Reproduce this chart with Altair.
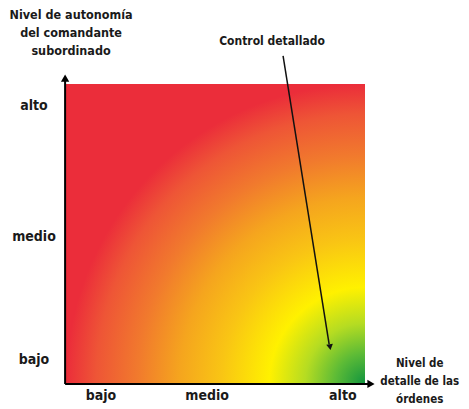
import altair as alt
import pandas as pd

# ---- data ----
level_labels = ["bajo", "medio", "alto"]
x_label_pos = [0.117, 0.472, 0.926]
y_label_pos = [0.077, 0.488, 0.926]

y_title_lines = ["Nivel de autonomía", "del comandante", "subordinado"]
y_title_ypos = [1.232, 1.172, 1.111]
x_title_lines = ["Nivel de", "detalle de las", "órdenes"]
x_title_ypos = [0.064, 0.003, -0.057]

annotation_text = ["Control detallado"]
annotation_pos = [(0.689, 1.144)]
arrow_from = [(0.726, 1.094)]
arrow_to = [(0.880, 0.130)]

FONT = "Liberation Sans Narrow, DejaVu Sans Condensed, Arial Narrow, sans-serif"
INK = "#1a1a1a"

xs = alt.Scale(domain=[0, 1], nice=False, zero=False)
ys = alt.Scale(domain=[0, 1], nice=False, zero=False)

# gradient square
square = alt.Chart(pd.DataFrame({"x": [0], "x2": [1], "y": [0], "y2": [1]})).mark_rect(
    fill={
        "gradient": "radial",
        "x1": 1, "y1": 1, "r1": 0,
        "x2": 1, "y2": 1, "r2": 1,
        "stops": [
            {"offset": 0.0, "color": "#12953F"},
            {"offset": 0.1, "color": "#5DBB36"},
            {"offset": 0.2, "color": "#B5DC22"},
            {"offset": 0.32, "color": "#FFF100"},
            {"offset": 0.48, "color": "#F9C514"},
            {"offset": 0.62, "color": "#F5A51E"},
            {"offset": 0.76, "color": "#F17A2D"},
            {"offset": 0.9, "color": "#EE5536"},
            {"offset": 1.0, "color": "#EB2D3A"},
        ],
    },
    stroke=None,
).encode(
    x=alt.X("x:Q", scale=xs, axis=None),
    x2="x2:Q",
    y=alt.Y("y:Q", scale=ys, axis=None),
    y2="y2:Q",
)

# axes lines
axes_df = pd.DataFrame({
    "x": [-0.003, -0.003],
    "y": [-0.003, -0.003],
    "x2": [-0.003, 1.012],
    "y2": [1.012, -0.003],
})
axes = alt.Chart(axes_df).mark_rule(color="black", strokeWidth=2).encode(
    x=alt.X("x:Q", scale=xs), y=alt.Y("y:Q", scale=ys), x2="x2:Q", y2="y2:Q"
)
heads_df = pd.DataFrame({"x": [-0.003, 1.02], "y": [1.02, -0.003], "angle": [0, 90]})
heads = alt.Chart(heads_df).mark_point(
    shape="triangle-up", filled=True, color="black", size=70, opacity=1
).encode(
    x=alt.X("x:Q", scale=xs), y=alt.Y("y:Q", scale=ys),
    angle=alt.Angle("angle:Q", scale=None),
)

# tick labels
xl = alt.Chart(pd.DataFrame({"t": level_labels, "x": x_label_pos, "y": [-0.043] * 3})).mark_text(
    font=FONT, fontSize=14, fontWeight="bold", color=INK, baseline="middle"
).encode(x=alt.X("x:Q", scale=xs), y=alt.Y("y:Q", scale=ys), text="t:N")
yl = alt.Chart(pd.DataFrame({"t": level_labels, "x": [-0.107] * 3, "y": y_label_pos})).mark_text(
    font=FONT, fontSize=14, fontWeight="bold", color=INK, baseline="middle"
).encode(x=alt.X("x:Q", scale=xs), y=alt.Y("y:Q", scale=ys), text="t:N")

# titles
yt = alt.Chart(pd.DataFrame({"t": y_title_lines, "x": [0.017] * 3, "y": y_title_ypos})).mark_text(
    font=FONT, fontSize=12.5, fontWeight="bold", color=INK, baseline="middle"
).encode(x=alt.X("x:Q", scale=xs), y=alt.Y("y:Q", scale=ys), text="t:N")
xt = alt.Chart(pd.DataFrame({"t": x_title_lines, "x": [1.183] * 3, "y": x_title_ypos})).mark_text(
    font=FONT, fontSize=11.5, fontWeight="bold", color=INK, baseline="middle"
).encode(x=alt.X("x:Q", scale=xs), y=alt.Y("y:Q", scale=ys), text="t:N")

# annotation
ann = alt.Chart(pd.DataFrame({"t": annotation_text,
                              "x": [p[0] for p in annotation_pos],
                              "y": [p[1] for p in annotation_pos]})).mark_text(
    font=FONT, fontSize=12, fontWeight="bold", color=INK, baseline="middle"
).encode(x=alt.X("x:Q", scale=xs), y=alt.Y("y:Q", scale=ys), text="t:N")
arrow_df = pd.DataFrame({"x": [arrow_from[0][0]], "y": [arrow_from[0][1]],
                         "x2": [arrow_to[0][0]], "y2": [arrow_to[0][1]]})
arrow = alt.Chart(arrow_df).mark_rule(color="#111111", strokeWidth=1.5).encode(
    x=alt.X("x:Q", scale=xs), y=alt.Y("y:Q", scale=ys), x2="x2:Q", y2="y2:Q"
)
arrow_head = alt.Chart(pd.DataFrame({"x": [0.883], "y": [0.12], "angle": [171]})).mark_point(
    shape="triangle-up", filled=True, color="#111111", size=45, opacity=1
).encode(
    x=alt.X("x:Q", scale=xs), y=alt.Y("y:Q", scale=ys),
    angle=alt.Angle("angle:Q", scale=None),
)

chart = alt.layer(square, axes, heads, xl, yl, yt, xt, ann, arrow, arrow_head).properties(
    width=299, height=299,
    padding={"left": 58, "top": 76, "right": 96, "bottom": 25},
    autosize=alt.AutoSizeParams(type="none"),
    background="white",
).configure_view(stroke=None)

chart.save("out.html", embed_options={"renderer": "svg", "actions": False})
